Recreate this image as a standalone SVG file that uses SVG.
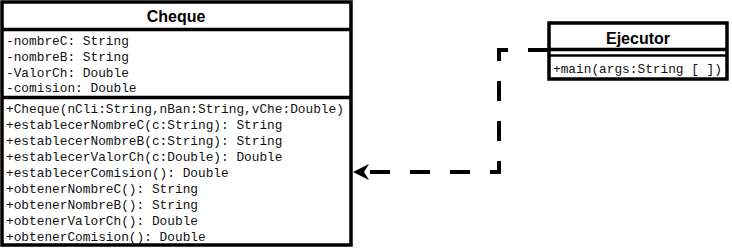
<svg xmlns="http://www.w3.org/2000/svg" width="732" height="249" viewBox="0 0 732 249">
  <style>
    .box { fill: #fff; stroke: #000; stroke-width: 3.5; }
    .sep { stroke: #000; stroke-width: 3.5; fill: none; }
    .title { font-family: "Liberation Sans", Arial, sans-serif; font-weight: bold; font-size: 16px; fill: #000; text-anchor: middle; }
    .member { font-family: "Liberation Mono", "Courier New", monospace; font-size: 12.8px; fill: #111; }
    .dep { fill: none; stroke: #000; stroke-width: 4; stroke-dasharray: 20 20; }
    .head { fill: #000; }
  </style>

  <rect width="732" height="249" fill="#fff"/>

  <g id="cheque">
    <rect class="box" x="2" y="2" width="349" height="243"/>
    <line class="sep" x1="2" y1="29.5" x2="351" y2="29.5"/>
    <line class="sep" x1="2" y1="97.5" x2="351" y2="97.5"/>
    <text class="title" x="176" y="22">Cheque</text>
    <text class="member" x="6" y="45">-nombreC: String</text>
    <text class="member" x="6" y="60.8">-nombreB: String</text>
    <text class="member" x="6" y="76.6">-ValorCh: Double</text>
    <text class="member" x="6" y="92.4">-comision: Double</text>
    <text class="member" x="6" y="113.3">+Cheque(nCli:String,nBan:String,vChe:Double)</text>
    <text class="member" x="6" y="129.3">+establecerNombreC(c:String): String</text>
    <text class="member" x="6" y="145.3">+establecerNombreB(c:String): String</text>
    <text class="member" x="6" y="161.3">+establecerValorCh(c:Double): Double</text>
    <text class="member" x="6" y="177.3">+establecerComision(): Double</text>
    <text class="member" x="6" y="193.3">+obtenerNombreC(): String</text>
    <text class="member" x="6" y="209.3">+obtenerNombreB(): String</text>
    <text class="member" x="6" y="225.3">+obtenerValorCh(): Double</text>
    <text class="member" x="6" y="241.3">+obtenerComision(): Double</text>
  </g>

  <g id="ejecutor">
    <rect class="box" x="549" y="23" width="178" height="56"/>
    <line class="sep" x1="549" y1="49.5" x2="727" y2="49.5"/>
    <line class="sep" x1="549" y1="55.5" x2="727" y2="55.5" style="stroke-width:2.5"/>
    <text class="title" x="638" y="43.5">Ejecutor</text>
    <text class="member" x="553" y="73.3">+main(args:String [ ])</text>
  </g>

  <g id="connectors">
    <!-- dependency: Ejecutor uses Cheque -->
    <path class="dep" d="M548,50 L499,50 L499,172 L369,172"/>
    <path class="head" d="M353,172 L369,164 L364,172 L369,180 Z"/>
  </g>
</svg>
